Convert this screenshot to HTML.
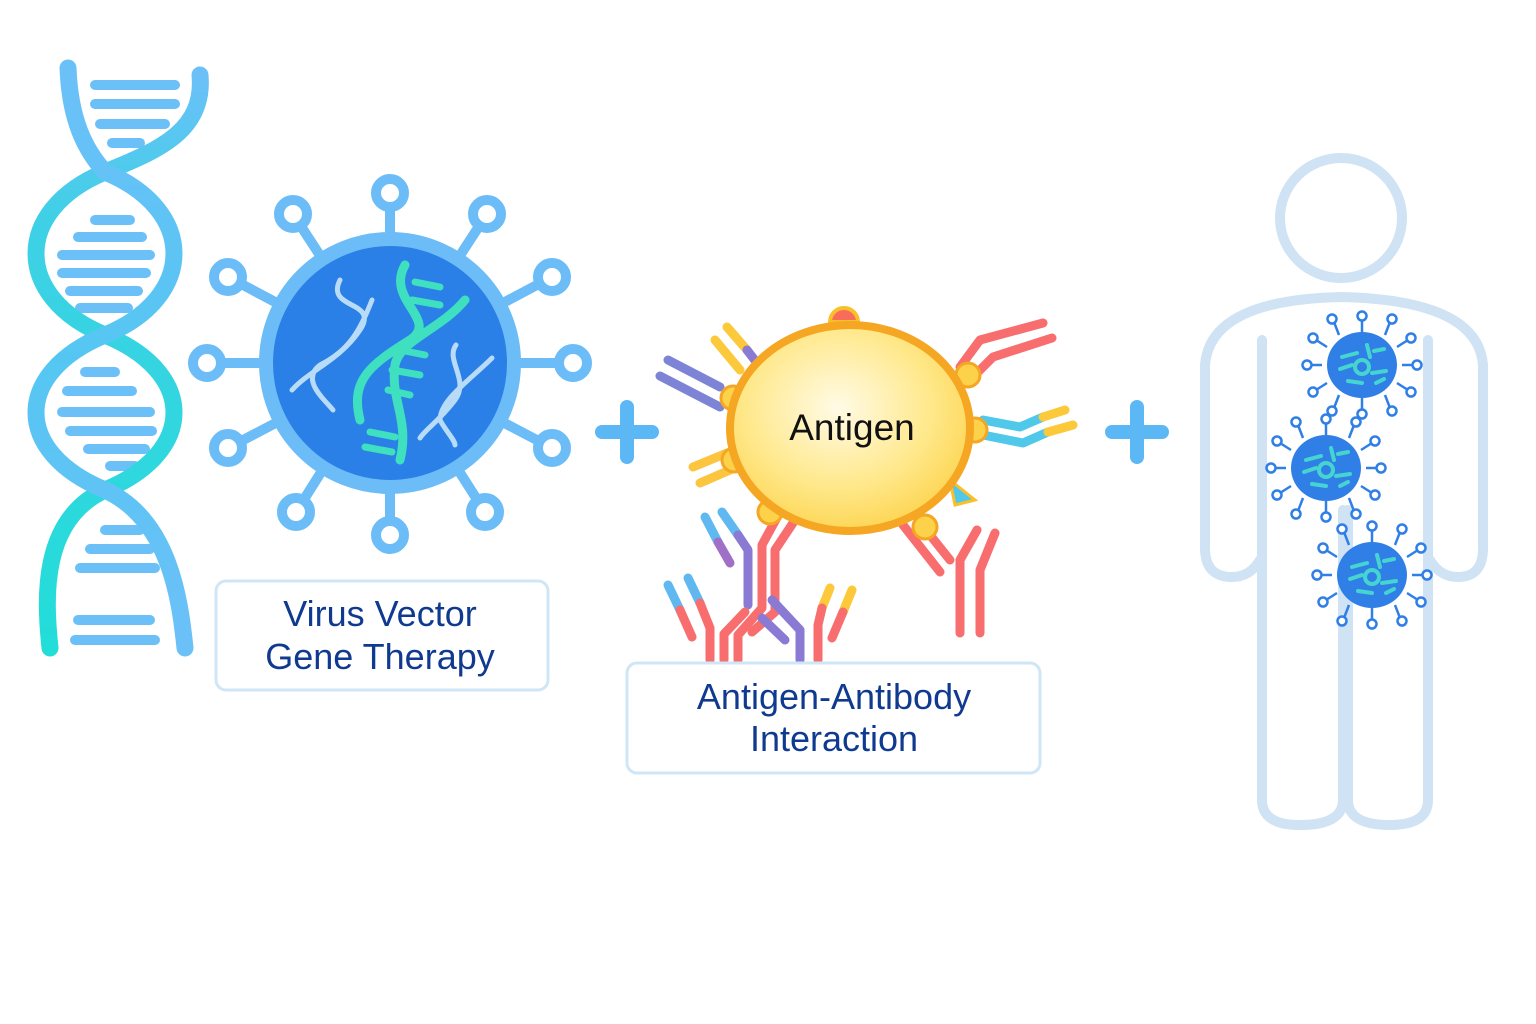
<!DOCTYPE html>
<html><head><meta charset="utf-8"><style>
html,body{margin:0;padding:0;background:#fff;}
svg{display:block;}
text{font-family:"Liberation Sans","DejaVu Sans",sans-serif;}
</style></head><body>
<svg width="1536" height="1024" viewBox="0 0 1536 1024" xmlns="http://www.w3.org/2000/svg">
<defs>
<linearGradient id="gA" x1="0" y1="0" x2="0" y2="1"><stop offset="0" stop-color="#6cc0f8"/><stop offset="0.25" stop-color="#3fd0e6"/><stop offset="1" stop-color="#22ddd8"/></linearGradient>
<linearGradient id="gB" x1="0" y1="0" x2="0" y2="1"><stop offset="0" stop-color="#6cc0f8"/><stop offset="0.5" stop-color="#55c6f2"/><stop offset="1" stop-color="#6cc0f8"/></linearGradient>
<radialGradient id="ag" cx="0.45" cy="0.4" r="0.65"><stop offset="0" stop-color="#fffbe6"/><stop offset="0.6" stop-color="#ffe88a"/><stop offset="1" stop-color="#fcd24a"/></radialGradient>
<g id="sv">
<g stroke="#2f7fe6" stroke-width="2.5" fill="#fff">
<line x1="0" y1="-33" x2="0" y2="-46"/><line x1="0" y1="33" x2="0" y2="46"/><line x1="-40" y1="0" x2="-52" y2="0"/><line x1="40" y1="0" x2="52" y2="0"/>
<line x1="23" y1="-30" x2="28" y2="-43"/><line x1="-23" y1="-30" x2="-28" y2="-43"/><line x1="23" y1="30" x2="28" y2="43"/><line x1="-23" y1="30" x2="-28" y2="43"/>
<line x1="35" y1="-18" x2="46" y2="-25"/><line x1="-35" y1="-18" x2="-46" y2="-25"/><line x1="35" y1="18" x2="46" y2="25"/><line x1="-35" y1="18" x2="-46" y2="25"/>
<circle cx="0" cy="-49" r="4.5"/><circle cx="0" cy="49" r="4.5"/><circle cx="-55" cy="0" r="4.5"/><circle cx="55" cy="0" r="4.5"/>
<circle cx="30" cy="-46" r="4.5"/><circle cx="-30" cy="-46" r="4.5"/><circle cx="30" cy="46" r="4.5"/><circle cx="-30" cy="46" r="4.5"/>
<circle cx="49" cy="-27" r="4.5"/><circle cx="-49" cy="-27" r="4.5"/><circle cx="49" cy="27" r="4.5"/><circle cx="-49" cy="27" r="4.5"/>
</g>
<ellipse cx="0" cy="0" rx="35" ry="33" fill="#2f7fe6"/>
<g fill="none" stroke="#45d4d0" stroke-width="4" stroke-linecap="round">
<circle cx="0" cy="2" r="7"/><path d="M-20,-8 L-5,-12 M-22,4 L-10,0 M5,-20 L8,-8 M12,-14 L22,-16 M10,8 L24,6 M-14,16 L0,18 M14,18 L22,14"/>
</g>
</g>
</defs>

<!-- DNA -->
<g fill="none" stroke-linecap="round">
<g stroke="#6cc0f8" stroke-width="10">
<line x1="95" y1="85" x2="175" y2="85"/><line x1="95" y1="104" x2="175" y2="104"/><line x1="100" y1="124" x2="165" y2="124"/><line x1="112" y1="143" x2="140" y2="143"/>
<line x1="95" y1="220" x2="130" y2="220"/><line x1="78" y1="237" x2="142" y2="237"/><line x1="62" y1="255" x2="150" y2="255"/><line x1="62" y1="273" x2="146" y2="273"/><line x1="70" y1="291" x2="138" y2="291"/><line x1="80" y1="308" x2="128" y2="308"/>
<line x1="85" y1="372" x2="115" y2="372"/><line x1="67" y1="391" x2="132" y2="391"/><line x1="62" y1="412" x2="150" y2="412"/><line x1="70" y1="431" x2="152" y2="431"/><line x1="88" y1="449" x2="145" y2="449"/><line x1="110" y1="466" x2="135" y2="466"/>
<line x1="105" y1="530" x2="140" y2="530"/><line x1="90" y1="549" x2="150" y2="549"/><line x1="80" y1="568" x2="155" y2="568"/><line x1="75" y1="640" x2="155" y2="640"/><line x1="78" y1="620" x2="150" y2="620"/>
</g>
<path d="M200,75 C205,130 160,150 105,172 C13,210 13,297 105,335 C197,373 197,452 105,490 C40,520 45,600 50,648" stroke="url(#gA)" stroke-width="17"/>
<path d="M68,68 C70,120 85,150 105,172 C197,210 197,297 105,335 C13,373 13,452 105,490 C170,520 180,600 185,648" stroke="url(#gB)" stroke-width="17"/>
</g>

<!-- Virus vector -->
<g stroke="#6cbcf7" stroke-width="10" fill="#fff">
<line x1="390" y1="363" x2="390" y2="193"/><line x1="390" y1="363" x2="390" y2="535"/>
<line x1="390" y1="363" x2="573" y2="363"/><line x1="390" y1="363" x2="207" y2="363"/>
<line x1="390" y1="363" x2="487" y2="214"/><line x1="390" y1="363" x2="293" y2="214"/>
<line x1="390" y1="363" x2="552" y2="277"/><line x1="390" y1="363" x2="228" y2="277"/>
<line x1="390" y1="363" x2="552" y2="448"/><line x1="390" y1="363" x2="228" y2="448"/>
<line x1="390" y1="363" x2="485" y2="512"/><line x1="390" y1="363" x2="296" y2="512"/>
<circle cx="390" cy="193" r="14"/><circle cx="390" cy="535" r="14"/><circle cx="573" cy="363" r="14"/><circle cx="207" cy="363" r="14"/>
<circle cx="487" cy="214" r="14"/><circle cx="293" cy="214" r="14"/><circle cx="552" cy="277" r="14"/><circle cx="228" cy="277" r="14"/>
<circle cx="552" cy="448" r="14"/><circle cx="228" cy="448" r="14"/><circle cx="485" cy="512" r="14"/><circle cx="296" cy="512" r="14"/>
</g>
<circle cx="390" cy="363" r="124" fill="#2a80e6" stroke="#6cbcf7" stroke-width="14"/>
<g fill="none" stroke-linecap="round">
<path d="M405,265 C385,300 440,320 410,340 C370,365 350,380 360,420 M465,300 C440,330 400,340 395,365 C390,400 410,420 400,460" stroke="#3fe0c0" stroke-width="9"/>
<g stroke="#3fe0c0" stroke-width="7"><line x1="415" y1="282" x2="440" y2="287"/><line x1="412" y1="300" x2="440" y2="305"/><line x1="400" y1="350" x2="425" y2="355"/><line x1="392" y1="370" x2="420" y2="375"/><line x1="388" y1="390" x2="410" y2="395"/><line x1="370" y1="432" x2="395" y2="437"/><line x1="365" y1="447" x2="392" y2="452"/></g>
<path d="M340,280 C325,310 380,300 360,330 C340,360 310,370 292,390 M372,300 C360,330 350,350 320,365 C300,380 325,400 333,410" stroke="#b8dcf7" stroke-width="5"/>
<path d="M456,345 C445,360 470,380 455,400 C440,420 425,430 420,438 M492,358 C470,380 440,400 440,420 C445,430 455,440 455,445" stroke="#b8dcf7" stroke-width="5"/>
</g>

<!-- plus signs -->
<g stroke="#5bb8f5" stroke-width="14" stroke-linecap="round">
<line x1="602" y1="432" x2="652" y2="432"/><line x1="627" y1="407" x2="627" y2="457"/>
<line x1="1112" y1="432" x2="1162" y2="432"/><line x1="1137" y1="407" x2="1137" y2="457"/>
</g>

<!-- Labels -->
<rect x="216" y="581" width="332" height="109" rx="10" fill="#fff" stroke="#cfe6f7" stroke-width="3"/>
<text x="380" y="626" font-size="36" fill="#0f3a8f" text-anchor="middle">Virus Vector</text>
<text x="380" y="669" font-size="36" fill="#0f3a8f" text-anchor="middle">Gene Therapy</text>

<!-- Antibodies -->
<g fill="none" stroke-width="9" stroke-linecap="round" stroke-linejoin="round">
<polyline points="668,360 720,387" stroke="#7d84d6"/><polyline points="660,376 720,407" stroke="#7d84d6"/>
<polyline points="727,327 747,350" stroke="#fbc93a"/><polyline points="747,350 757,363" stroke="#8a7ad4"/>
<polyline points="715,340 740,370" stroke="#fbc93a"/>
<polyline points="693,467 727,453" stroke="#fbc540"/><polyline points="700,483 730,470" stroke="#fbc540"/>
<polyline points="960,367 980,340 1043,323" stroke="#f86d6d"/><polyline points="970,380 993,357 1052,338" stroke="#f86d6d"/>
<polyline points="983,420 1020,427 1043,417" stroke="#4fc8ea"/><polyline points="1043,417 1065,410" stroke="#fbc93a"/>
<polyline points="983,435 1023,443 1048,432" stroke="#4fc8ea"/><polyline points="1048,432 1073,425" stroke="#fbc93a"/>
<polyline points="705,517 718,542" stroke="#5fb8f0"/><polyline points="718,542 730,563" stroke="#a070c8"/>
<polyline points="722,512 738,535" stroke="#5fb8f0"/><polyline points="738,535 748,550 748,605" stroke="#8a7ad4"/>
<polyline points="780,512 762,545 762,608 738,635 738,660" stroke="#f86d6d"/>
<polyline points="795,520 775,550 775,612 752,632" stroke="#f86d6d"/>
<polyline points="772,600 800,630 800,660" stroke="#8a7ad4"/><polyline points="762,618 785,640" stroke="#8a7ad4"/>
<polyline points="668,585 680,610" stroke="#5fb8f0"/><polyline points="680,610 692,637" stroke="#f86d6d"/>
<polyline points="688,578 700,603" stroke="#5fb8f0"/><polyline points="700,603 710,628 710,660" stroke="#f86d6d"/>
<polyline points="724,660 724,634 745,612" stroke="#f86d6d"/>
<polyline points="830,588 822,608" stroke="#fbc93a"/><polyline points="822,608 818,625 818,660" stroke="#f86d6d"/>
<polyline points="852,590 843,612" stroke="#fbc93a"/><polyline points="843,612 832,638" stroke="#f86d6d"/>
<polyline points="903,525 940,572" stroke="#f86d6d"/><polyline points="918,520 950,560" stroke="#f86d6d"/>
<polyline points="977,530 960,560 960,633" stroke="#f86d6d"/><polyline points="995,533 980,570 980,633" stroke="#f86d6d"/>
</g>
<!-- Antigen -->
<g fill="#fcd24a" stroke="#f5a623" stroke-width="3">
<circle cx="733" cy="398" r="12"/><circle cx="734" cy="460" r="12"/><circle cx="770" cy="512" r="12"/><circle cx="925" cy="527" r="12"/><circle cx="968" cy="375" r="12"/><circle cx="975" cy="430" r="12"/>
</g>
<path d="M830,322 a14,14 0 0 1 28,0 z" fill="#f86d5a" stroke="#fbbf2a" stroke-width="4"/>
<path d="M950,480 L975,500 L955,505 z" fill="#4fc8ea" stroke="#fbbf2a" stroke-width="3"/>
<ellipse cx="850" cy="428" rx="120" ry="103" fill="url(#ag)" stroke="#f5a623" stroke-width="8"/>
<text x="852" y="440" font-size="37" fill="#111" text-anchor="middle">Antigen</text>

<rect x="627" y="663" width="413" height="110" rx="10" fill="#fff" stroke="#cfe6f7" stroke-width="3"/>
<text x="834" y="709" font-size="36" fill="#0f3a8f" text-anchor="middle">Antigen-Antibody</text>
<text x="834" y="751" font-size="36" fill="#0f3a8f" text-anchor="middle">Interaction</text>

<!-- Human -->
<g fill="none" stroke="#cfe3f4" stroke-width="10" stroke-linecap="round" stroke-linejoin="round">
<ellipse cx="1341" cy="218" rx="61" ry="60"/>
<path d="M1262,340 L1262,800 Q1262,825 1300,825 Q1343,825 1343,800 L1343,510"/>
<path d="M1428,340 L1428,800 Q1428,825 1390,825 Q1348,825 1348,800 L1348,510"/>
<path d="M1260,560 Q1250,577 1232,577 Q1205,577 1205,548 L1205,365 Q1210,300 1341,297 Q1478,300 1483,365 L1483,548 Q1483,577 1458,577 Q1440,577 1430,560"/>
</g>

<use href="#sv" transform="translate(1362,365)"/>
<use href="#sv" transform="translate(1326,468)"/>
<use href="#sv" transform="translate(1372,575)"/>
</svg>
</body></html>
